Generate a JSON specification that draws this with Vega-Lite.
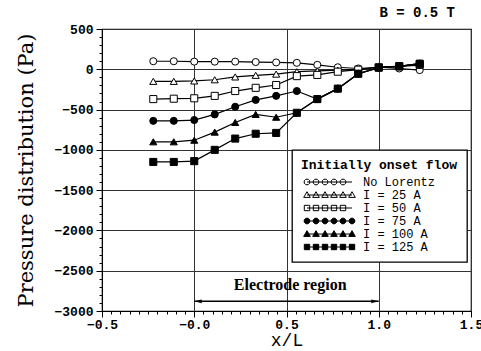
{
  "$schema": "https://vega.github.io/schema/vega-lite/v6.json",
  "width": 369,
  "height": 282,
  "autosize": "none",
  "padding": {"left": 102, "top": 29, "right": 10, "bottom": 40},
  "background": "white",
  "title": {"text": "B  =  0.5  T", "anchor": "end", "frame": "group", "font": "Liberation Mono", "fontSize": 14, "fontWeight": "bold", "color": "black", "offset": 3, "dx": -16},
  "config": {
    "view": {"stroke": "black", "strokeWidth": 1.2},
    "legend": {"strokeWidth": 1.3}
  },
  "datasets": {
    "series": [
      {"s":"No Lorentz","x":-0.222,"p":100},{"s":"No Lorentz","x":-0.111,"p":100},{"s":"No Lorentz","x":0,"p":95},{"s":"No Lorentz","x":0.111,"p":95},{"s":"No Lorentz","x":0.222,"p":95},{"s":"No Lorentz","x":0.333,"p":90},{"s":"No Lorentz","x":0.444,"p":85},{"s":"No Lorentz","x":0.556,"p":80},{"s":"No Lorentz","x":0.667,"p":55},{"s":"No Lorentz","x":0.778,"p":25},{"s":"No Lorentz","x":0.889,"p":10},{"s":"No Lorentz","x":1.0,"p":25},{"s":"No Lorentz","x":1.111,"p":10},{"s":"No Lorentz","x":1.222,"p":-10},
      {"s":"I = 25 A","x":-0.222,"p":-150},{"s":"I = 25 A","x":-0.111,"p":-150},{"s":"I = 25 A","x":0,"p":-145},{"s":"I = 25 A","x":0.111,"p":-130},{"s":"I = 25 A","x":0.222,"p":-95},{"s":"I = 25 A","x":0.333,"p":-75},{"s":"I = 25 A","x":0.444,"p":-60},{"s":"I = 25 A","x":0.556,"p":-30},{"s":"I = 25 A","x":0.667,"p":-20},{"s":"I = 25 A","x":0.778,"p":-10},{"s":"I = 25 A","x":0.889,"p":0},{"s":"I = 25 A","x":1.0,"p":25},{"s":"I = 25 A","x":1.111,"p":35},{"s":"I = 25 A","x":1.222,"p":50},
      {"s":"I = 50 A","x":-0.222,"p":-370},{"s":"I = 50 A","x":-0.111,"p":-365},{"s":"I = 50 A","x":0,"p":-360},{"s":"I = 50 A","x":0.111,"p":-330},{"s":"I = 50 A","x":0.222,"p":-270},{"s":"I = 50 A","x":0.333,"p":-230},{"s":"I = 50 A","x":0.444,"p":-195},{"s":"I = 50 A","x":0.556,"p":-85},{"s":"I = 50 A","x":0.667,"p":-70},{"s":"I = 50 A","x":0.778,"p":-30},{"s":"I = 50 A","x":0.889,"p":-5},{"s":"I = 50 A","x":1.0,"p":25},{"s":"I = 50 A","x":1.111,"p":40},{"s":"I = 50 A","x":1.222,"p":60},
      {"s":"I = 75 A","x":-0.222,"p":-640},{"s":"I = 75 A","x":-0.111,"p":-640},{"s":"I = 75 A","x":0,"p":-630},{"s":"I = 75 A","x":0.111,"p":-560},{"s":"I = 75 A","x":0.222,"p":-465},{"s":"I = 75 A","x":0.333,"p":-380},{"s":"I = 75 A","x":0.444,"p":-330},{"s":"I = 75 A","x":0.556,"p":-270},{"s":"I = 75 A","x":0.667,"p":-370},{"s":"I = 75 A","x":0.778,"p":-240},{"s":"I = 75 A","x":0.889,"p":-55},{"s":"I = 75 A","x":1.0,"p":20},{"s":"I = 75 A","x":1.111,"p":35},{"s":"I = 75 A","x":1.222,"p":70},
      {"s":"I = 100 A","x":-0.222,"p":-900},{"s":"I = 100 A","x":-0.111,"p":-900},{"s":"I = 100 A","x":0,"p":-880},{"s":"I = 100 A","x":0.111,"p":-780},{"s":"I = 100 A","x":0.222,"p":-660},{"s":"I = 100 A","x":0.333,"p":-560},{"s":"I = 100 A","x":0.444,"p":-595},{"s":"I = 100 A","x":0.556,"p":-540},{"s":"I = 100 A","x":0.667,"p":-370},{"s":"I = 100 A","x":0.778,"p":-240},{"s":"I = 100 A","x":0.889,"p":-55},{"s":"I = 100 A","x":1.0,"p":20},{"s":"I = 100 A","x":1.111,"p":35},{"s":"I = 100 A","x":1.222,"p":70},
      {"s":"I = 125 A","x":-0.222,"p":-1150},{"s":"I = 125 A","x":-0.111,"p":-1150},{"s":"I = 125 A","x":0,"p":-1140},{"s":"I = 125 A","x":0.111,"p":-1000},{"s":"I = 125 A","x":0.222,"p":-860},{"s":"I = 125 A","x":0.333,"p":-800},{"s":"I = 125 A","x":0.444,"p":-790},{"s":"I = 125 A","x":0.556,"p":-540},{"s":"I = 125 A","x":0.667,"p":-370},{"s":"I = 125 A","x":0.778,"p":-240},{"s":"I = 125 A","x":0.889,"p":-55},{"s":"I = 125 A","x":1.0,"p":20},{"s":"I = 125 A","x":1.111,"p":35},{"s":"I = 125 A","x":1.222,"p":70}
    ],
    "arrow": [{"x": 0, "x2": 1, "p": -2880}],
    "label": [{"x": 0.52, "p": -2680, "t": "Electrode region"}]
  },
  "encoding": {
    "x": {
      "field": "x", "type": "quantitative",
      "scale": {"domain": [-0.5, 1.5], "nice": false, "zero": false},
      "axis": {
        "values": [-0.5,-0.45,-0.4,-0.35,-0.3,-0.25,-0.2,-0.15,-0.1,-0.05,0,0.05,0.1,0.15,0.2,0.25,0.3,0.35,0.4,0.45,0.5,0.55,0.6,0.65,0.7,0.75,0.8,0.85,0.9,0.95,1,1.05,1.1,1.15,1.2,1.25,1.3,1.35,1.4,1.45,1.5],
        "labelExpr": "abs(datum.value*2 - round(datum.value*2)) < 0.001 ? (abs(datum.value) < 0.001 ? '−0.0' : format(datum.value, '.1f')) : ''",
        "tickSize": {"condition": {"test": "abs(datum.value*2 - round(datum.value*2)) < 0.001", "value": 6}, "value": 3},
        "gridOpacity": {"condition": {"test": "abs(datum.value*2 - round(datum.value*2)) < 0.001", "value": 1}, "value": 0},
        "grid": true, "gridColor": "#333", "gridWidth": 1,
        "domainColor": "black", "tickColor": "black",
        "labelFont": "Liberation Mono", "labelFontWeight": "bold", "labelFontSize": 13, "labelColor": "black",
        "labelPadding": 1, "labelFlush": false, "labelOverlap": false,
        "title": "x/L", "titleFont": "Liberation Mono", "titleFontSize": 18, "titleFontWeight": "normal", "titleColor": "black", "titlePadding": 0
      }
    },
    "y": {
      "field": "p", "type": "quantitative",
      "scale": {"domain": [-3000, 500], "nice": false, "zero": false},
      "axis": {
        "values": [-3000,-2900,-2800,-2700,-2600,-2500,-2400,-2300,-2200,-2100,-2000,-1900,-1800,-1700,-1600,-1500,-1400,-1300,-1200,-1100,-1000,-900,-800,-700,-600,-500,-400,-300,-200,-100,0,100,200,300,400,500],
        "labelExpr": "datum.value % 500 === 0 ? format(datum.value, 'd') : ''",
        "tickSize": {"condition": {"test": "datum.value % 500 === 0", "value": 6}, "value": 3},
        "gridOpacity": {"condition": {"test": "datum.value % 500 === 0", "value": 1}, "value": 0},
        "grid": true, "gridColor": "#333", "gridWidth": 1,
        "domainColor": "black", "tickColor": "black",
        "labelFont": "Liberation Mono", "labelFontWeight": "bold", "labelFontSize": 13, "labelColor": "black",
        "labelPadding": 3, "labelFlush": false, "labelOverlap": false,
        "title": "Pressure distribution (Pa)", "titleFont": "DejaVu Serif", "titleFontSize": 21, "titleFontWeight": "normal", "titleColor": "black", "titlePadding": 17
      }
    }
  },
  "layer": [
    {
      "data": {"name": "series"},
      "mark": {"type": "line", "color": "black", "strokeWidth": 1.2},
      "encoding": {"detail": {"field": "s"}, "order": {"field": "x"}}
    },
    {
      "data": {"name": "series"},
      "mark": {"type": "point", "filled": true, "stroke": "black", "strokeWidth": 1, "opacity": 1, "size": 50},
      "encoding": {
        "shape": {
          "condition": [
            {"test": "datum.s === 'No Lorentz' || datum.s === 'I = 75 A'", "value": "circle"},
            {"test": "datum.s === 'I = 25 A' || datum.s === 'I = 100 A'", "value": "triangle-up"}
          ],
          "value": "square"
        },
        "fill": {
          "condition": {"test": "indexof(['I = 75 A','I = 100 A','I = 125 A'], datum.s) >= 0", "value": "black"},
          "value": "white"
        }
      }
    },
    {
      "data": {"name": "series"},
      "transform": [{"filter": "datum.p > 100000"}],
      "mark": {"type": "point", "filled": true, "stroke": "black", "strokeWidth": 1, "opacity": 1},
      "encoding": {
        "shape": {
          "field": "s", "type": "nominal",
          "scale": {"domain": ["No Lorentz","I = 25 A","I = 50 A","I = 75 A","I = 100 A","I = 125 A"], "range": [
            "M0,0L15,0M0.92,-0.38L0.92,0.38L0.38,0.92L-0.38,0.92L-0.92,0.38L-0.92,-0.38L-0.38,-0.92L0.38,-0.92ZM3.92,-0.38L3.92,0.38L3.38,0.92L2.62,0.92L2.08,0.38L2.08,-0.38L2.62,-0.92L3.38,-0.92ZM6.92,-0.38L6.92,0.38L6.38,0.92L5.62,0.92L5.08,0.38L5.08,-0.38L5.62,-0.92L6.38,-0.92ZM9.92,-0.38L9.92,0.38L9.38,0.92L8.62,0.92L8.08,0.38L8.08,-0.38L8.62,-0.92L9.38,-0.92ZM12.92,-0.38L12.92,0.38L12.38,0.92L11.62,0.92L11.08,0.38L11.08,-0.38L11.62,-0.92L12.38,-0.92Z",
            "M0,0L15,0M0,-1.1L1.1,0.8L-1.1,0.8ZM3,-1.1L4.1,0.8L1.9,0.8ZM6,-1.1L7.1,0.8L4.9,0.8ZM9,-1.1L10.1,0.8L7.9,0.8ZM12,-1.1L13.1,0.8L10.9,0.8ZM15,-1.1L16.1,0.8L13.9,0.8Z",
            "M0,0L15,0M-0.9,-0.9L0.9,-0.9L0.9,0.9L-0.9,0.9ZM2.1,-0.9L3.9,-0.9L3.9,0.9L2.1,0.9ZM5.1,-0.9L6.9,-0.9L6.9,0.9L5.1,0.9ZM8.1,-0.9L9.9,-0.9L9.9,0.9L8.1,0.9ZM11.1,-0.9L12.9,-0.9L12.9,0.9L11.1,0.9Z",
            "M0,0L15,0M0.92,-0.38L0.92,0.38L0.38,0.92L-0.38,0.92L-0.92,0.38L-0.92,-0.38L-0.38,-0.92L0.38,-0.92ZM3.92,-0.38L3.92,0.38L3.38,0.92L2.62,0.92L2.08,0.38L2.08,-0.38L2.62,-0.92L3.38,-0.92ZM6.92,-0.38L6.92,0.38L6.38,0.92L5.62,0.92L5.08,0.38L5.08,-0.38L5.62,-0.92L6.38,-0.92ZM9.92,-0.38L9.92,0.38L9.38,0.92L8.62,0.92L8.08,0.38L8.08,-0.38L8.62,-0.92L9.38,-0.92ZM12.92,-0.38L12.92,0.38L12.38,0.92L11.62,0.92L11.08,0.38L11.08,-0.38L11.62,-0.92L12.38,-0.92ZM15.92,-0.38L15.92,0.38L15.38,0.92L14.62,0.92L14.08,0.38L14.08,-0.38L14.62,-0.92L15.38,-0.92Z",
            "M0,0L15,0M0,-1.1L1.1,0.8L-1.1,0.8ZM3,-1.1L4.1,0.8L1.9,0.8ZM6,-1.1L7.1,0.8L4.9,0.8ZM9,-1.1L10.1,0.8L7.9,0.8ZM12,-1.1L13.1,0.8L10.9,0.8ZM15,-1.1L16.1,0.8L13.9,0.8Z",
            "M0,0L15,0M-0.9,-0.9L0.9,-0.9L0.9,0.9L-0.9,0.9ZM2.1,-0.9L3.9,-0.9L3.9,0.9L2.1,0.9ZM5.1,-0.9L6.9,-0.9L6.9,0.9L5.1,0.9ZM8.1,-0.9L9.9,-0.9L9.9,0.9L8.1,0.9ZM11.1,-0.9L12.9,-0.9L12.9,0.9L11.1,0.9ZM14.1,-0.9L15.9,-0.9L15.9,0.9L14.1,0.9Z"
          ]},
          "legend": {
            "orient": "none", "legendX": 190, "legendY": 121,
            "title": "Initially onset flow", "titleFont": "Liberation Mono", "titleFontSize": 13, "titleFontWeight": "bold", "titleColor": "black", "titlePadding": 4,
            "labelFont": "Liberation Mono", "labelFontSize": 12, "labelColor": "black", "labelOffset": 50,
            "padding": 9, "strokeColor": "black", "fillColor": "white", "rowPadding": 1,
            "symbolSize": 36, "symbolStrokeWidth": 1
          }
        },
        "fill": {
          "field": "s", "type": "nominal",
          "scale": {"domain": ["No Lorentz","I = 25 A","I = 50 A","I = 75 A","I = 100 A","I = 125 A"], "range": ["white","white","white","black","black","black"]}
        }
      }
    },
    {
      "data": {"name": "arrow"},
      "mark": {"type": "rule", "color": "black", "strokeWidth": 1.5},
      "encoding": {"x2": {"field": "x2"}}
    },
    {
      "data": {"name": "arrow"},
      "mark": {"type": "point", "shape": "M0,0L2,-0.5L2,0.5Z", "size": 56, "filled": true, "color": "black", "opacity": 1}
    },
    {
      "data": {"name": "arrow"},
      "mark": {"type": "point", "shape": "M0,0L-2,-0.5L-2,0.5Z", "size": 56, "filled": true, "color": "black", "opacity": 1},
      "encoding": {"x": {"field": "x2", "type": "quantitative"}}
    },
    {
      "data": {"name": "label"},
      "mark": {"type": "text", "font": "Liberation Serif", "fontWeight": "bold", "fontSize": 16, "color": "black", "align": "center", "baseline": "middle"},
      "encoding": {"text": {"field": "t"}}
    }
  ]
}
